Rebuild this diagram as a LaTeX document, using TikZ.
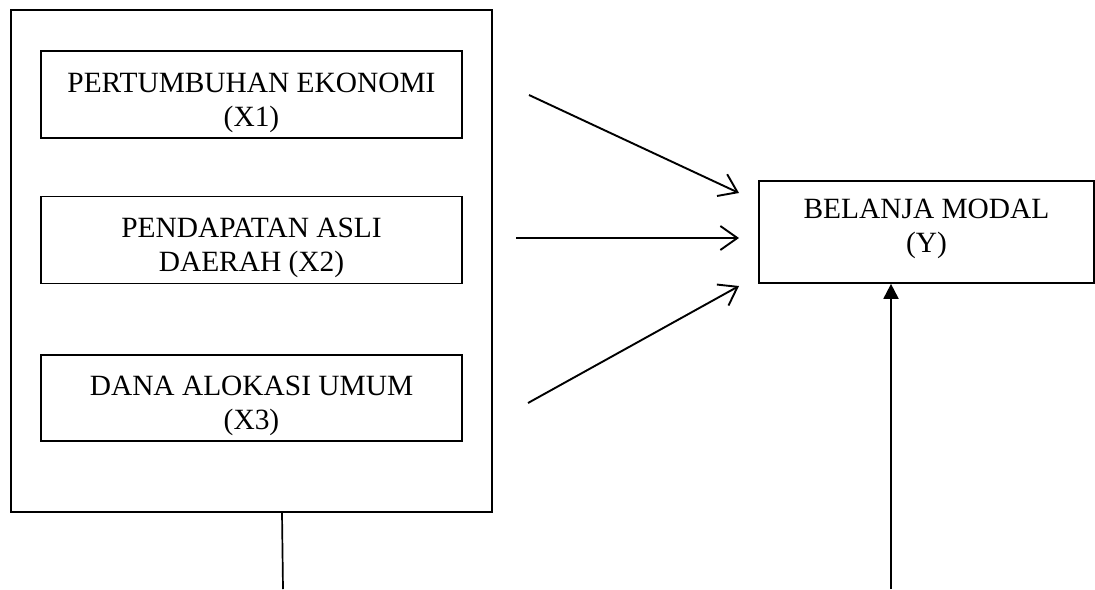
\documentclass[tikz,border=0pt]{standalone}
\usepackage{fontspec}
\setmainfont{Liberation Serif}
\usetikzlibrary{arrows.meta}
\begin{document}
\begin{tikzpicture}[x=1pt,y=-1pt,
  frame/.style={draw,line width=1.7pt,rectangle,inner sep=0pt},
  lbl/.style={align=center,font=\fontsize{29.4}{33.5}\selectfont,inner sep=0pt},
  conn/.style={line width=1.9pt,-{Straight Barb[length=17pt,width=24pt,line width=1.9pt]}},
  uparrow/.style={line width=1.9pt,-{Triangle[length=15pt,width=15pt]}},
  plain/.style={line width=1.7pt}]
\useasboundingbox (0,0) rectangle (1095,589);
\node[frame,minimum width=481pt,minimum height=502pt] (outer) at (251.5,261) {};
\node[frame,minimum width=421pt,minimum height=87pt] (b1) at (251.5,94.5) {};
\node[lbl] (t1) at (251.5,103) {PERTUMBUHAN EKONOMI\\(X1)};
\node[frame,minimum width=421pt,minimum height=87pt] (b2) at (251.5,240) {};
\node[lbl] (t2) at (251.5,248) {PENDAPATAN ASLI\\DAERAH (X2)};
\node[frame,minimum width=421pt,minimum height=86pt] (b3) at (251.5,398) {};
\node[lbl] (t3) at (251.5,406) {DANA ALOKASI UMUM\\(X3)};
\node[frame,minimum width=335pt,minimum height=102pt] (y) at (926.5,232) {};
\node[lbl] (ty) at (926.5,229) {BELANJA MODAL\\(Y)};
\coordinate (s1) at (529,95);
\coordinate (e1) at (739,193);
\coordinate (s2) at (516,238);
\coordinate (e2) at (739,238);
\coordinate (s3) at (528,403);
\coordinate (e3) at (739,286);
\coordinate (lb) at (283,589);
\coordinate (vb) at (891,589);
\draw[conn] (s1) -- (e1);
\draw[conn] (s2) -- (e2);
\draw[conn] (s3) -- (e3);
\draw[plain] (outer.south -| 282,0) -- (lb);
\draw[uparrow] (vb) -- (y.south -| vb);
\end{tikzpicture}
\end{document}
